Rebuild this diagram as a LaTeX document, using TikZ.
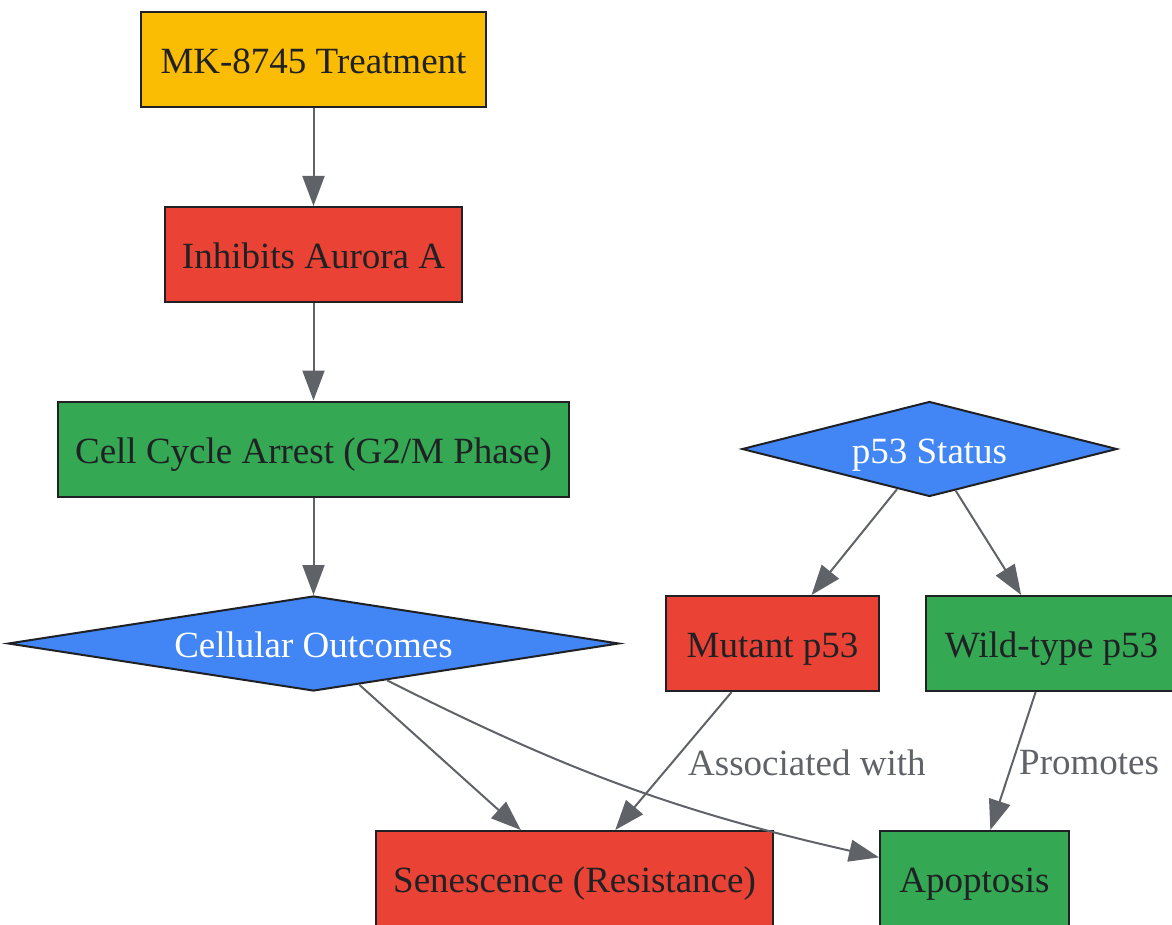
\documentclass[tikz,border=0pt]{standalone}
\usepackage{fontspec}
\setmainfont{Liberation Serif}
\usetikzlibrary{shapes.geometric,arrows.meta}
\definecolor{gyellow}{HTML}{FBBC04}
\definecolor{gred}{HTML}{EA4335}
\definecolor{ggreen}{HTML}{34A853}
\definecolor{gblue}{HTML}{4285F4}
\definecolor{gdark}{HTML}{202124}
\definecolor{ggray}{HTML}{5F6368}
\begin{document}
\begin{tikzpicture}[x=1pt,y=-1pt,
  txt/.style={font=\fontsize{37}{44}\selectfont},
  box/.style={txt, draw=gdark, line width=2pt, rectangle, inner sep=0pt, minimum height=95pt, text=gdark, text height=34pt, text depth=6pt},
  dia/.style={txt, draw=gdark, line width=2pt, diamond, inner sep=0pt, fill=gblue, text=white, minimum height=95pt, text height=34pt, text depth=6pt},
  edge/.style={draw=ggray, line width=2pt, -{Triangle[length=30pt,width=22pt]}},
  lbl/.style={txt, text=ggray, inner sep=0pt}]
\useasboundingbox (0,0) rectangle (1172,925);
\node[box, fill=gyellow, minimum width=345pt] (mk) at (313.5,59.5) {MK-8745 Treatment};
\node[box, fill=gred, minimum width=297pt] (aur) at (313.5,254.5) {Inhibits Aurora A};
\node[box, fill=ggreen, minimum width=511pt] (cca) at (313.5,449) {Cell Cycle Arrest (G2/M Phase)};
\node[dia, aspect=6.4, minimum width=611pt] (out) at (313.5,643.5) {Cellular Outcomes};
\node[dia, aspect=3.9, minimum width=375pt] (p53) at (929.5,449) {p53 Status};
\node[box, fill=gred, minimum width=213pt] (mut) at (772.5,643.5) {Mutant p53};
\node[box, fill=ggreen, minimum width=251pt] (wt) at (1051.5,643.5) {Wild-type p53};
\node[box, fill=gred, minimum width=397pt] (sen) at (574.5,878.5) {Senescence (Resistance)};
\node[box, fill=ggreen, minimum width=189pt] (apo) at (974.5,878.5) {Apoptosis};
\draw[edge] (mk) -- (aur);
\draw[edge] (aur) -- (cca);
\draw[edge] (cca) -- (out);
\draw[edge] (p53) -- (mut);
\draw[edge] (p53) -- (wt);
\draw[edge] (out) -- (sen);
\draw[edge] (out) to[bend right=7] (apo);
\draw[edge] (mut) -- (sen);
\draw[edge] (wt) -- (apo);
\node[lbl, anchor=west] (l1) at (688,763) {Associated with};
\node[lbl, anchor=west] (l2) at (1019,763) {Promotes};
\end{tikzpicture}
\end{document}
